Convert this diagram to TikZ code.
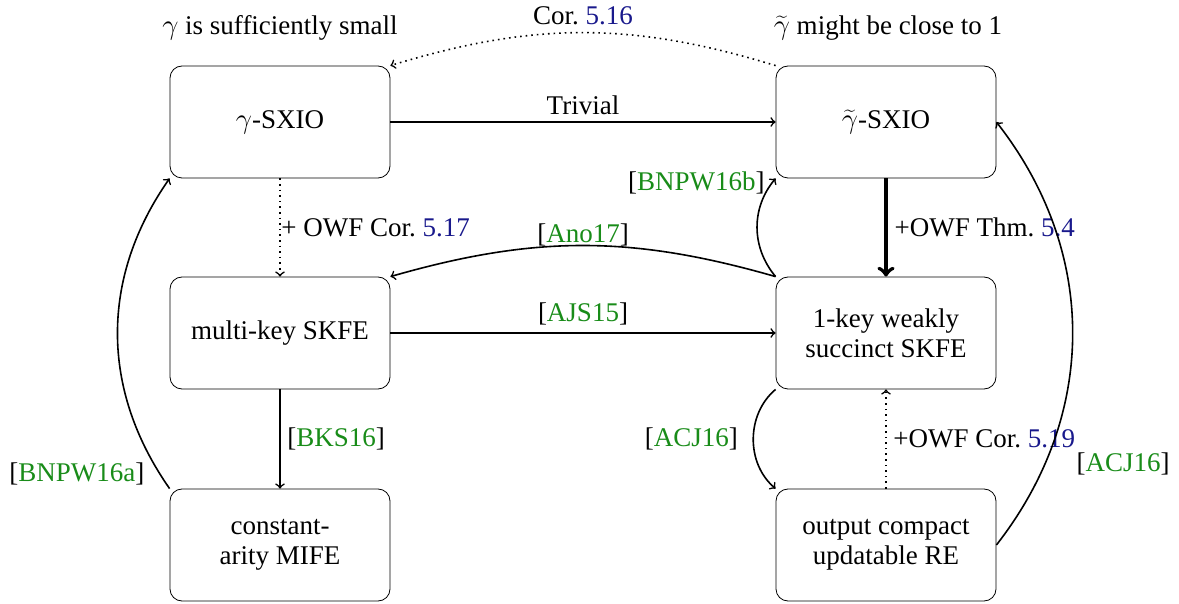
\documentclass[tikz,border=0pt]{standalone}
\usepackage{fontspec}
\setmainfont{Liberation Serif}
\definecolor{citegreen}{rgb}{0.1,0.55,0.1}
\definecolor{refblue}{rgb}{0.1,0.1,0.55}
\newcommand{\mycite}[1]{[\textcolor{citegreen}{#1}]}
\newcommand{\myref}[1]{\textcolor{refblue}{#1}}
\begin{document}
\begin{tikzpicture}[x=0.5pt,y=-0.5pt,
  font=\fontsize{13.5}{15}\selectfont,
  box/.style={draw, rounded corners=6pt, minimum width=110pt, minimum height=56pt, align=center, inner sep=2pt},
  conn/.style={->, thick},
  heavy/.style={->, line width=2pt}]
\useasboundingbox (0,0) rectangle (1179,604);
\node[box] (g1) at (280,122) {$\gamma$-SXIO};
\node[box] (g2) at (886,122) {$\widetilde{\gamma}$-SXIO};
\node[box] (mk) at (280,333) {multi-key SKFE};
\node[box] (ok) at (886,333) {1-key weakly\\succinct SKFE};
\node[box] (mi) at (280,545) {constant-\\arity MIFE};
\node[box] (re) at (886,545) {output compact\\updatable RE};
\node (t1) at (280,28) {$\gamma$ is sufficiently small};
\node (t2) at (888,28) {$\widetilde{\gamma}$ might be close to 1};

\draw[conn] (g1) -- node[above]{Trivial} (g2);
\draw[conn, dotted] (g2.north west) to[bend right=17] node[above]{Cor.~\myref{5.16}} (g1.north east);
\draw[conn, dotted] (g1) -- node[right, xshift=-3pt]{+ OWF Cor.~\myref{5.17}} (mk);
\draw[heavy] (g2) -- node[right]{+OWF Thm.~\myref{5.4}} (ok);
\draw[conn] (ok.north west) to[bend right=16] node[above, yshift=-4pt]{\mycite{Ano17}} (mk.north east);
\draw[conn] (ok.north west) to[bend left=40] node[pos=0.95, left]{\mycite{BNPW16b}} (g2.south west);
\draw[conn] (mk) -- node[above]{\mycite{AJS15}} (ok);
\draw[conn] (mk) -- node[right]{\mycite{BKS16}} (mi);
\draw[conn] (mi.north west) to[bend left=35] node[pos=0.05, left, xshift=-4pt]{\mycite{BNPW16a}} (g1.south west);
\draw[conn] (ok.south west) to[bend right=50] node[left, xshift=-4pt]{\mycite{ACJ16}} (re.north west);
\draw[conn, dotted] (re) -- node[right]{+OWF Cor.~\myref{5.19}} (ok);
\draw[conn] (re.east) to[bend right=38] node[pos=0.2, right, xshift=12pt]{\mycite{ACJ16}} (g2.east);
\end{tikzpicture}
\end{document}
